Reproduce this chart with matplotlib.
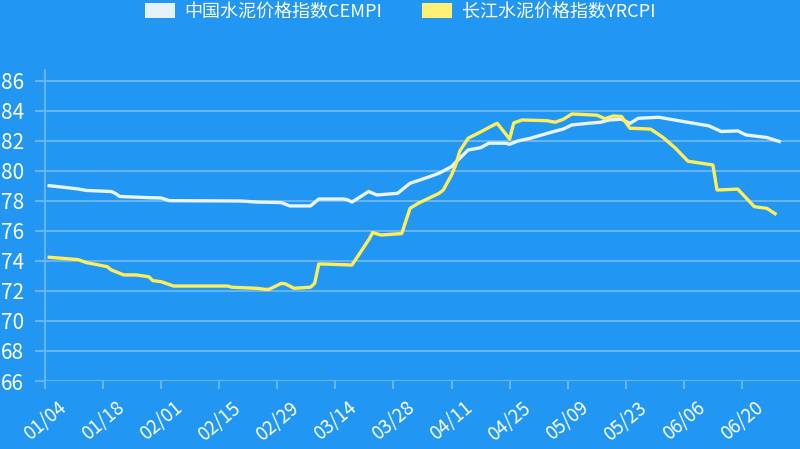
import pandas as pd
import matplotlib
matplotlib.use('Agg')
import matplotlib.pyplot as plt
from matplotlib.patches import Patch

plt.rcParams['font.family'] = ['Noto Sans CJK SC', 'DejaVu Sans']

# CEMPI (white line) vertices
cempi_dates = ['01/05', '01/08', '01/12', '01/14', '01/20', '01/21', '01/22', '01/29', '02/01', '02/03',
               '02/20', '02/24', '03/01', '03/03', '03/08', '03/10', '03/16', '03/17', '03/18', '03/22',
               '03/24', '03/29', '04/01', '04/05', '04/08', '04/11', '04/13', '04/15', '04/18', '04/20',
               '04/24', '04/25', '04/27', '04/30', '05/05', '05/08', '05/10', '05/14', '05/17', '05/19',
               '05/22', '05/24', '05/26', '05/31', '06/06', '06/12', '06/15', '06/19', '06/21', '06/26',
               '06/29']
cempi = [79.02, 78.93, 78.80, 78.70, 78.63, 78.50, 78.30, 78.22, 78.20, 78.02,
         78.00, 77.93, 77.89, 77.67, 77.67, 78.13, 78.13, 78.07, 77.93, 78.63,
         78.40, 78.51, 79.18, 79.55, 79.85, 80.29, 80.85, 81.40, 81.55, 81.85,
         81.85, 81.78, 82.00, 82.18, 82.58, 82.80, 83.07, 83.18, 83.25, 83.40,
         83.45, 83.17, 83.51, 83.58, 83.29, 83.01, 82.63, 82.67, 82.40, 82.23,
         81.97]

# YRCPI (yellow line) vertices
yrcpi_dates = ['01/05', '01/08', '01/12', '01/14', '01/17', '01/19', '01/20', '01/23', '01/26', '01/29',
               '01/30', '02/01', '02/04', '02/17', '02/18', '02/24', '02/26', '02/27', '03/01', '03/02',
               '03/04', '03/08', '03/09', '03/10', '03/11', '03/18', '03/22', '03/23', '03/25', '03/30',
               '04/01', '04/03', '04/08', '04/09', '04/11', '04/12', '04/13', '04/15', '04/18', '04/20',
               '04/22', '04/25', '04/26', '04/28', '05/04', '05/06', '05/08', '05/10', '05/16', '05/18',
               '05/20', '05/22', '05/24', '05/29', '06/01', '06/04', '06/07', '06/13', '06/14', '06/19',
               '06/23', '06/26', '06/28']
yrcpi = [74.25, 74.18, 74.09, 73.89, 73.73, 73.62, 73.40, 73.07, 73.07, 72.95,
         72.69, 72.62, 72.33, 72.33, 72.25, 72.18, 72.11, 72.11, 72.51, 72.47,
         72.18, 72.25, 72.51, 73.80, 73.80, 73.73, 75.40, 75.89, 75.73, 75.83,
         77.51, 77.85, 78.51, 78.73, 79.73, 80.40, 81.33, 82.18, 82.60, 82.90,
         83.18, 82.13, 83.20, 83.40, 83.35, 83.25, 83.45, 83.80, 83.72, 83.48,
         83.67, 83.63, 82.85, 82.79, 82.23, 81.51, 80.65, 80.40, 78.73, 78.79,
         77.62, 77.51, 77.15]

tick_dates = ['01/04', '01/18', '02/01', '02/15', '02/29', '03/14', '03/28',
              '04/11', '04/25', '05/09', '05/23', '06/06', '06/20']

def to_dt(lst):
    return pd.to_datetime(['2016/' + d for d in lst], format='%Y/%m/%d')

bg = '#2196F3'
grid_c = '#6DB8F7'

fig = plt.figure(figsize=(8, 4.49), dpi=100, facecolor=bg)
ax = fig.add_axes([45 / 800, 1 - 381 / 449, 1 - 45 / 800, (381 - 70) / 449])
ax.set_facecolor(bg)

ax.plot(to_dt(cempi_dates), cempi, color='#EAF4FD', lw=2.4, solid_joinstyle='round')
ax.plot(to_dt(yrcpi_dates), yrcpi, color='#FFEE58', lw=2.4, solid_joinstyle='round')

ax.set_ylim(66, 86.73)
ax.set_yticks(range(66, 87, 2))
ax.set_xlim(pd.Timestamp('2016-01-04'), pd.Timestamp('2016-01-04') + pd.Timedelta(days=182))
ax.set_xticks(to_dt(tick_dates))
ax.set_xticklabels(tick_dates, rotation=40, ha='center', va='center', rotation_mode='anchor')

ax.grid(axis='y', color=grid_c, lw=1.3)
ax.set_axisbelow(True)
for s in ['top', 'right', 'bottom']:
    ax.spines[s].set_visible(False)
ax.spines['left'].set_color(grid_c)
ax.spines['left'].set_linewidth(1.3)

ax.tick_params(axis='y', colors=grid_c, labelcolor='white', length=7, width=1.3,
               pad=8, labelsize=15)
ax.tick_params(axis='x', colors=grid_c, labelcolor='white', length=6, width=1.3,
               pad=23, labelsize=13.5)

handles = [Patch(facecolor='#E3F2FD', edgecolor='none', label='中国水泥价格指数CEMPI'),
           Patch(facecolor='#FFF176', edgecolor='none', label='长江水泥价格指数YRCPI')]
leg = fig.legend(handles=handles, loc='upper center', bbox_to_anchor=(0.5, 1.03), ncol=2,
                 frameon=False, fontsize=13, labelcolor='white', handlelength=1.66,
                 handleheight=0.95, columnspacing=2.2, handletextpad=0.55)

fig.savefig('out.png', dpi=100, facecolor=bg)
